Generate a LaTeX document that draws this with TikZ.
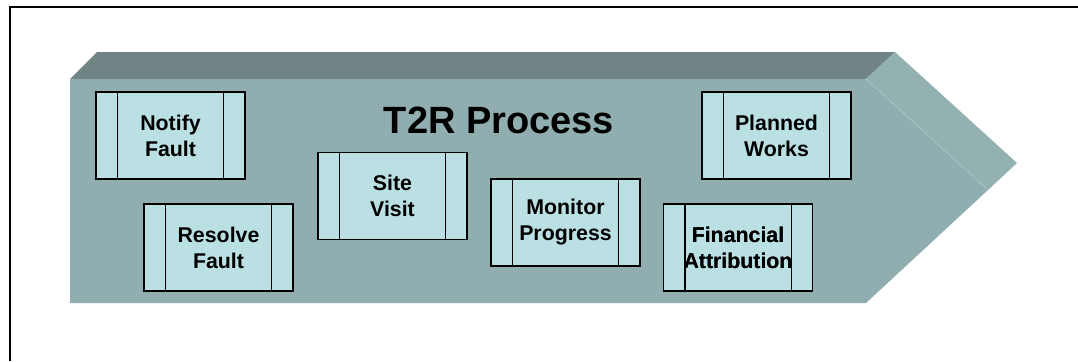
\documentclass[tikz,border=0pt]{standalone}
\usepackage{fontspec}
\setmainfont{Liberation Sans}
\definecolor{topface}{HTML}{708486}
\definecolor{frontface}{HTML}{90AEAF}
\definecolor{sideface}{HTML}{93B1B1}
\definecolor{edgeline}{HTML}{A8C4C4}
\definecolor{boxfill}{HTML}{BBE0E3}
\begin{document}
\begin{tikzpicture}[x=0.75pt,y=-0.75pt,
  procbox/.style={draw=black, line width=0.9pt, fill=boxfill,
    minimum width=111.75pt, minimum height=65.25pt, inner sep=0pt,
    align=center, font=\bfseries\fontsize{16}{19.5}\selectfont},
  title/.style={font=\bfseries\fontsize{28.5}{32}\selectfont, inner sep=0pt}]
\useasboundingbox (0,0) rectangle (1078,361);
% frame
\draw[line width=1.5pt] (10,361) -- (10,7) -- (1078,7);
% arrow faces
\fill[topface] (70,79) -- (97,52) -- (895,52) -- (866,79) -- cycle;
\fill[sideface] (866,79) -- (895,52) -- (1017,163) -- (988,190) -- cycle;
\fill[frontface] (70,79) -- (866,79) -- (988,190) -- (866,303) -- (70,303) -- cycle;
\draw[edgeline, line width=0.6pt] (866,79) -- (988,190);
% title
\node[title] (t) at (499,120) {T2R Process};
% boxes
\node[procbox] (nf) at (170.5,135.5) {Notify\\Fault};
\node[procbox] (rf) at (218.5,247.5) {Resolve\\Fault};
\node[procbox] (sv) at (392.5,196) {Site\\Visit};
\node[procbox] (mp) at (565.5,222.5) {Monitor\\Progress};
\node[procbox] (fa) at (738,247.5) {Financial\\Attribution};
\node[procbox] (pw) at (776.5,135.5) {Planned\\Works};
\foreach \n in {nf,rf,sv,mp,pw}{
  \draw[line width=0.9pt] ([xshift=16.5pt]\n.north west) -- ([xshift=16.5pt]\n.south west);
  \draw[line width=0.9pt] ([xshift=-16.5pt]\n.north east) -- ([xshift=-16.5pt]\n.south east);
}
\draw[line width=0.9pt] ([xshift=16.5pt]fa.north west) -- ([xshift=16.5pt]fa.south west);
\draw[line width=0.9pt] ([xshift=-16.5pt]fa.north east) -- ([xshift=-16.5pt]fa.south east);
\node[procbox, draw=none, fill=none] (fat) at (738,247.5) {Financial\\Attribution};
\end{tikzpicture}
\end{document}
